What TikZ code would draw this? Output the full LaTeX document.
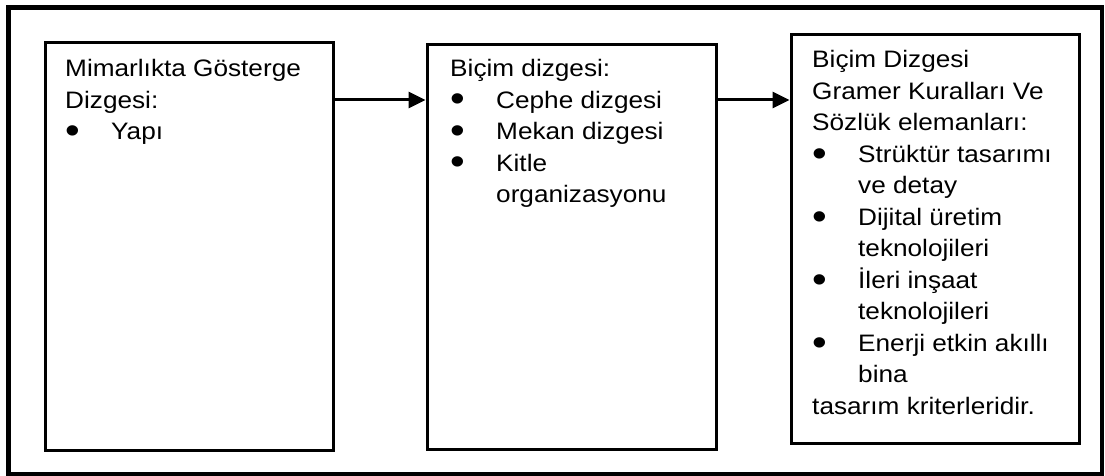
\documentclass[tikz,border=0pt]{standalone}
\usepackage{fontspec}
\setmainfont{Liberation Sans}
\usetikzlibrary{arrows.meta}

\newcommand{\madde}[1]{\makebox[41.8pt][l]{\smash{\raisebox{-3.6pt}{\scalebox{1.6}{\textbullet}}}}#1}
\newcommand{\devam}[1]{\hspace{41.8pt}#1}

\begin{document}
\begin{tikzpicture}[
    x=1pt, y=-1pt,
    kutu/.style={draw, line width=3pt, inner sep=0pt},
    yazi/.style={anchor=base west, inner sep=0pt, xscale=1.1,
      font=\fontsize{23.8}{31.5}\selectfont},
    ok/.style={line width=3pt, -{Triangle[length=17pt, width=16pt]}}
  ]

  \useasboundingbox (0,0) rectangle (1105,476);

  \draw[line width=4.5pt] (8.5,7.5) rectangle (1102,474.5);

  \node[kutu, minimum width=287.5pt, minimum height=407pt, anchor=north west] (gosterge) at (44,41.5) {};
  \node[kutu, minimum width=289pt, minimum height=405pt, anchor=north west] (bicim) at (425.5,43) {};
  \node[kutu, minimum width=288pt, minimum height=408pt, anchor=north west] (sozluk) at (789.5,33.5) {};

  \node[yazi] (gosterge-y) at (65,76.7) {\begin{tabular}[t]{@{}l@{}}
      Mimarlıkta Gösterge\\
      Dizgesi:\\
      \madde{Yapı}
    \end{tabular}};

  \node[yazi] (bicim-y) at (450,76.7) {\begin{tabular}[t]{@{}l@{}}
      Biçim dizgesi:\\
      \madde{Cephe dizgesi}\\
      \madde{Mekan dizgesi}\\
      \madde{Kitle}\\
      \devam{organizasyonu}
    \end{tabular}};

  \node[yazi] (sozluk-y) at (812,68) {\begin{tabular}[t]{@{}l@{}}
      Biçim Dizgesi\\
      Gramer Kuralları Ve\\
      Sözlük elemanları:\\
      \madde{Strüktür tasarımı}\\
      \devam{ve detay}\\
      \madde{Dijital üretim}\\
      \devam{teknolojileri}\\
      \madde{İleri inşaat}\\
      \devam{teknolojileri}\\
      \madde{Enerji etkin akıllı}\\
      \devam{bina}\\
      tasarım kriterleridir.
    \end{tabular}};

  \coordinate (okhizasi) at (0,100);
  \draw[ok] (gosterge.east |- okhizasi) -- (bicim.west |- okhizasi);
  \draw[ok] (bicim.east |- okhizasi) -- (sozluk.west |- okhizasi);

\end{tikzpicture}
\end{document}
